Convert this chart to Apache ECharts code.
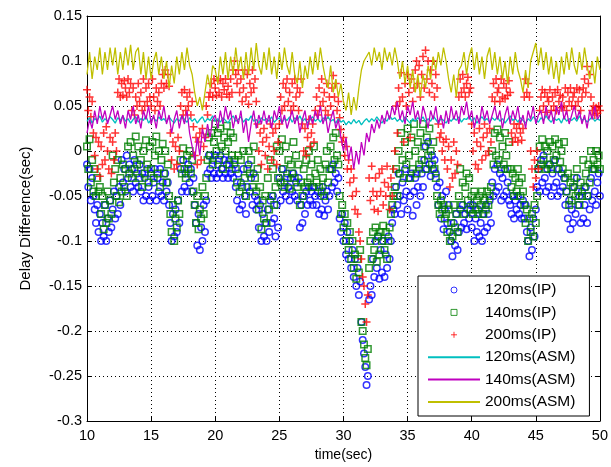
<!DOCTYPE html>
<html>
<head>
<meta charset="utf-8">
<title>Delay Difference</title>
<script src="https://cdn.jsdelivr.net/npm/echarts@6/dist/echarts.min.js"></script>
<style>
  html, body { margin: 0; padding: 0; background: #fff; }
  #chart { width: 611px; height: 467px; }
</style>
</head>
<body>
<div id="chart"></div>
<script>
// IP samples every 0.1 s, ASM samples every 0.2 s, both from t = 10 s to 50 s
const tStart = 10
const ipStep = 0.1
const asmStep = 0.2

const xTicks = [10, 15, 20, 25, 30, 35, 40, 45, 50]
const yTicks = [-0.3, -0.25, -0.2, -0.15, -0.1, -0.05, 0, 0.05, 0.1, 0.15]

const names = ['120ms(IP)', '140ms(IP)', '200ms(IP)', '120ms(ASM)', '140ms(ASM)', '200ms(ASM)']

// delay difference (sec), one row per second
const ip120 = [
  -0.015, -0.04, -0.02, -0.055, -0.03, -0.05, -0.065, -0.08, -0.06, -0.09,
  -0.07, -0.1, -0.08, -0.095, -0.06, -0.1, -0.075, -0.09, -0.055, -0.085,
  -0.065, -0.045, -0.075, -0.05, -0.07, -0.04, -0.06, -0.01, -0.035, -0.02,
  -0.045, -0.005, -0.03, -0.015, -0.04, -0.02, -0.045, -0.01, -0.035, -0.025,
  -0.04, -0.015, -0.045, -0.025, -0.055, -0.03, -0.05, -0.02, -0.04, -0.055,
  -0.025, -0.05, -0.035, -0.02, -0.055, -0.03, -0.045, -0.02, -0.05, -0.035,
  -0.055, -0.025, -0.045, -0.035, -0.06, -0.08, -0.1, -0.07, -0.095, -0.065,
  -0.09, -0.055, -0.08, -0.02, -0.045, -0.01, -0.04, -0.025, -0.045, -0.015,
  -0.035, -0.02, -0.045, -0.03, -0.06, -0.08, -0.105, -0.07, -0.11, -0.085,
  -0.1, -0.06, -0.09, -0.055, -0.025, -0.005, -0.02, -0.03, -0.01, -0.025,
  -0.005, -0.03, -0.015, -0.025, -0.005, -0.02, -0.03, -0.01, -0.025, -0.015,
  -0.03, -0.01, -0.025, -0.02, -0.03, -0.015, -0.04, -0.055, -0.025, -0.065,
  -0.035, -0.06, -0.02, -0.05, -0.07, -0.04, -0.015, -0.045, -0.03, -0.06,
  -0.025, -0.05, -0.065, -0.055, -0.085, -0.06, -0.1, -0.07, -0.095, -0.08,
  -0.1, -0.065, -0.09, -0.055, -0.08, -0.05, -0.075, -0.095, -0.06, -0.085,
  -0.03, -0.055, -0.02, -0.045, -0.035, -0.05, -0.025, -0.04, -0.055, -0.03,
  -0.045, -0.025, -0.05, -0.035, -0.055, -0.03, -0.085, -0.06, -0.08, -0.05,
  -0.07, -0.045, -0.06, -0.04, -0.055, -0.045, -0.06, -0.04, -0.05, -0.06,
  -0.045, -0.07, -0.05, -0.065, -0.04, -0.072, -0.055, -0.045, -0.065, -0.05,
  -0.02, -0.04, -0.015, -0.035, -0.025, -0.045, -0.03, -0.075, -0.09, -0.07,
  -0.1, -0.08, -0.115, -0.09, -0.12, -0.1, -0.13, -0.11, -0.14, -0.12,
  -0.15, -0.13, -0.16, -0.145, -0.19, -0.21, -0.225, -0.24, -0.26, -0.25,
  -0.165, -0.15, -0.16, -0.12, -0.14, -0.1, -0.13, -0.095, -0.142, -0.11,
  -0.135, -0.1, -0.14, -0.115, -0.13, -0.095, -0.12, -0.1, -0.08, -0.065,
  -0.07, -0.04, -0.06, -0.025, -0.05, -0.07, -0.035, -0.055, -0.02, -0.045,
  -0.065, -0.03, -0.05, -0.025, -0.072, -0.045, -0.03, -0.06, -0.04, -0.02,
  -0.05, -0.025, -0.04, -0.01, 0.005, -0.02, 0.01, -0.015, -0.028, -0.005,
  -0.02, -0.01, -0.025, -0.04, -0.06, -0.035, -0.075, -0.05, -0.087, -0.065,
  -0.045, -0.08, -0.06, -0.09, -0.1, -0.117, -0.08, -0.105, -0.07, -0.11,
  -0.09, -0.065, -0.085, -0.06, -0.08, -0.07, -0.087, -0.065, -0.075, -0.06,
  -0.085, -0.06, -0.1, -0.075, -0.09, -0.065, -0.095, -0.08, -0.1, -0.07,
  -0.09, -0.06, -0.085, -0.07, -0.055, -0.08, -0.035, -0.05, -0.02, -0.045,
  -0.015, -0.04, -0.025, -0.055, -0.03, -0.05, -0.02, -0.045, -0.035, -0.055,
  -0.06, -0.07, -0.05, -0.075, -0.055, -0.065, -0.05, -0.07, -0.06, -0.075,
  -0.055, -0.075, -0.06, -0.09, -0.1, -0.117, -0.085, -0.11, -0.075, -0.095,
  -0.065, -0.04, -0.02, -0.045, -0.01, -0.035, -0.005, -0.03, -0.045, -0.02,
  -0.04, -0.015, -0.05, -0.025, -0.04, -0.01, -0.035, -0.05, -0.02, -0.045,
  -0.025, -0.04, -0.03, -0.06, -0.045, -0.075, -0.055, -0.087, -0.065, -0.08,
  -0.04, -0.07, -0.03, -0.06, -0.05, -0.08, -0.045, -0.075, -0.06, -0.04,
  -0.08, -0.05, -0.065, -0.03, -0.055, -0.02, -0.045, -0.06, -0.035, -0.025,
  -0.05
]

const ip140 = [
  0.005, -0.02, 0.013, -0.035, -0.01, -0.045, -0.02, -0.05, -0.03, -0.045,
  -0.04, -0.07, -0.05, -0.087, -0.06, -0.08, -0.045, -0.075, -0.055, -0.07,
  -0.005, -0.035, -0.02, -0.05, -0.01, -0.057, -0.03, -0.045, -0.015, -0.04,
  -0.02, -0.05, 0.005, -0.025, 0.01, -0.03, -0.005, -0.02, 0.016, -0.015,
  0.005, -0.03, -0.01, -0.04, 0.0, -0.025, 0.012, -0.015, -0.035, 0.005,
  -0.02, 0.01, -0.03, -0.005, 0.016, -0.025, 0.0, -0.04, -0.01, 0.008,
  -0.025, 0.0, -0.035, -0.015, -0.05, -0.07, -0.09, -0.06, -0.1, -0.075,
  -0.085, -0.055, -0.07, -0.01, -0.025, 0.003, -0.02, -0.03, -0.005, -0.02,
  0.0, -0.025, -0.01, -0.045, -0.06, -0.08, -0.05, -0.087, -0.065, -0.075,
  -0.04, -0.07, -0.05, -0.03, -0.01, 0.015, -0.005, 0.02, -0.015, 0.01,
  0.03, 0.0, 0.02, -0.01, 0.025, 0.005, -0.02, 0.015, 0.0, 0.028,
  0.01, -0.015, 0.02, -0.005, 0.015, -0.01, -0.02, -0.035, -0.005, -0.045,
  -0.01, -0.04, 0.0, -0.03, -0.05, -0.02, 0.0, -0.025, -0.01, -0.04,
  0.005, -0.03, -0.045, -0.02, -0.065, -0.04, -0.087, -0.055, -0.075, -0.05,
  -0.08, -0.03, -0.065, -0.01, -0.05, -0.02, -0.06, -0.04, 0.005, -0.03,
  0.0, -0.035, 0.013, -0.02, -0.04, 0.005, -0.03, -0.01, -0.042, -0.015,
  -0.025, 0.01, -0.03, -0.005, -0.04, -0.015, -0.06, -0.035, -0.05, -0.02,
  -0.04, -0.01, -0.035, 0.0, -0.03, -0.015, -0.04, 0.005, -0.025, -0.035,
  -0.01, -0.04, -0.02, -0.045, -0.03, -0.05, -0.015, 0.0, -0.035, -0.02,
  0.005, -0.02, 0.015, -0.01, 0.02, -0.005, -0.015, -0.05, -0.07, -0.06,
  -0.085, -0.07, -0.1, -0.08, -0.11, -0.09, -0.12, -0.1, -0.13, -0.115,
  -0.142, -0.12, -0.135, -0.11, -0.19, -0.2, -0.215, -0.23, -0.238, -0.22,
  -0.13, -0.1, -0.12, -0.09, -0.11, -0.085, -0.123, -0.095, -0.115, -0.09,
  -0.1, -0.083, -0.11, -0.09, -0.12, -0.1, -0.085, -0.07, -0.06, -0.05,
  -0.04, -0.02, -0.05, 0.0, -0.025, 0.02, -0.01, -0.03, 0.01, -0.015,
  0.025, -0.005, -0.03, 0.015, -0.02, 0.03, 0.0, -0.025, 0.01, -0.015,
  0.02, -0.01, 0.03, 0.005, -0.02, 0.015, -0.005, 0.025, 0.0, -0.015,
  0.01, -0.02, -0.03, -0.05, -0.06, -0.07, -0.055, -0.065, -0.06, -0.075,
  -0.07, -0.09, -0.065, -0.1, -0.08, -0.095, -0.06, -0.085, -0.07, -0.09,
  -0.05, -0.02, -0.06, -0.035, -0.07, -0.04, -0.025, -0.055, -0.03, -0.065,
  -0.05, -0.07, -0.045, -0.065, -0.055, -0.07, -0.05, -0.06, -0.045, -0.07,
  -0.055, -0.065, -0.045, -0.06, -0.05, -0.04, 0.0, -0.015, 0.02, -0.005,
  0.024, -0.01, 0.015, -0.02, 0.005, -0.015, 0.02, -0.005, -0.02, 0.01,
  -0.02, -0.04, -0.025, -0.05, -0.03, -0.045, -0.02, -0.035, -0.05, -0.03,
  -0.045, -0.06, -0.08, -0.065, -0.1, -0.075, -0.09, -0.07, -0.095, -0.06,
  -0.08, -0.05, -0.02, 0.005, -0.015, 0.013, -0.01, 0.005, -0.02, 0.0,
  -0.015, 0.01, -0.02, 0.005, -0.01, 0.013, -0.005, -0.02, 0.008, -0.012,
  0.0, -0.02, 0.01, -0.03, -0.045, -0.025, -0.06, -0.035, -0.055, -0.04,
  -0.03, -0.05, -0.02, -0.045, -0.06, -0.035, -0.05, -0.01, -0.04, -0.025,
  -0.05, -0.015, -0.035, 0.0, -0.02, -0.01, -0.02, 0.0, -0.015, -0.005,
  -0.02
]

const ip200 = [
  0.068, 0.045, 0.06, 0.038, 0.055, 0.02, -0.005, 0.015, -0.02, 0.01,
  -0.028, 0.005, -0.015, 0.02, -0.01, 0.027, 0.0, -0.02, 0.015, -0.025,
  0.01, -0.01, 0.02, 0.0, 0.065, 0.08, 0.06, 0.075, 0.062, 0.078,
  0.07, 0.06, 0.08, 0.065, 0.075, 0.045, 0.07, 0.04, 0.06, 0.05,
  0.075, 0.055, 0.065, 0.045, 0.08, 0.05, 0.07, 0.055, 0.075, 0.06,
  0.05, 0.08, 0.06, 0.045, 0.07, 0.055, 0.065, 0.05, 0.075, 0.085,
  0.07, 0.09, 0.075, 0.085, 0.072, 0.02, -0.01, 0.01, -0.02, 0.005,
  -0.015, 0.015, 0.0, 0.05, 0.065, 0.04, 0.068, 0.045, 0.06, 0.05,
  0.065, 0.04, 0.055, 0.027, -0.005, 0.015, -0.015, 0.01, 0.02, -0.01,
  0.025, 0.005, 0.015, 0.05, 0.04, 0.06, 0.065, 0.075, 0.06, 0.08,
  0.07, 0.062, 0.078, 0.065, 0.08, 0.06, 0.075, 0.068, 0.08, 0.063,
  0.072, 0.06, 0.08, 0.065, 0.09, 0.1, 0.085, 0.075, 0.09, 0.065,
  0.08, 0.055, 0.07, 0.09, 0.06, 0.085, 0.052, 0.075, 0.065, 0.09,
  0.07, 0.08, 0.055, 0.03, 0.0, 0.02, -0.015, 0.01, 0.025, -0.005,
  0.015, -0.02, 0.005, 0.03, -0.01, 0.02, 0.0, 0.025, -0.015, 0.01,
  0.03, 0.06, 0.045, 0.075, 0.05, 0.07, 0.08, 0.055, 0.065, 0.045,
  0.075, 0.05, 0.08, 0.06, 0.07, 0.045, 0.065, 0.08, 0.03, 0.0,
  0.025, -0.005, 0.015, 0.035, 0.005, 0.02, 0.03, 0.01, 0.045, 0.06,
  0.04, 0.07, 0.05, 0.08, 0.055, 0.065, 0.045, 0.075, 0.04, 0.06,
  0.05, 0.07, 0.084, 0.06, 0.075, 0.045, 0.055, 0.037, 0.024, 0.01,
  0.015, -0.005, 0.005, -0.02, -0.01, -0.035, -0.02, -0.05, -0.03, -0.065,
  -0.045, -0.07, -0.09, -0.1, -0.12, -0.14, -0.15, -0.17, -0.19, -0.16,
  -0.03, -0.055, -0.017, -0.045, -0.065, -0.03, -0.05, -0.067, -0.025, -0.045,
  -0.02, -0.06, -0.035, -0.05, -0.017, -0.04, -0.065, -0.03, -0.05, -0.02,
  0.0, 0.05, 0.02, 0.07, 0.055, 0.087, 0.06, 0.01, 0.075, 0.05,
  0.085, 0.065, 0.015, 0.08, 0.055, 0.07, 0.09, 0.1, 0.075, 0.095,
  0.06, 0.085, 0.105, 0.07, 0.112, 0.08, 0.1, 0.065, 0.09, 0.075,
  0.1, 0.06, 0.085, 0.07, 0.03, 0.015, 0.02, 0.0, 0.01, -0.01,
  0.013, -0.02, 0.005, -0.04, -0.01, -0.03, 0.01, -0.025, 0.0, -0.015,
  0.06, 0.08, 0.065, 0.085, 0.07, 0.06, 0.075, 0.082, 0.065, 0.07,
  0.03, 0.0, 0.02, -0.015, 0.01, -0.02, 0.025, 0.005, -0.01, 0.015,
  0.03, -0.005, 0.02, 0.0, 0.025, 0.01, 0.06, 0.075, 0.055, 0.08,
  0.065, 0.07, 0.055, 0.08, 0.06, 0.075, 0.058, 0.07, 0.062, 0.078,
  0.065, 0.02, 0.01, 0.03, 0.015, 0.025, 0.01, 0.03, 0.02, 0.012,
  0.025, 0.06, 0.08, 0.065, 0.075, 0.06, 0.0, -0.02, -0.04, -0.01,
  -0.03, 0.0, -0.02, 0.045, 0.06, 0.068, 0.05, 0.065, 0.043, 0.06,
  0.055, 0.068, 0.045, 0.06, 0.05, 0.065, 0.045, 0.068, 0.055, 0.062,
  0.048, 0.06, 0.05, 0.07, 0.045, 0.065, 0.055, 0.07, 0.05, 0.06,
  0.065, 0.05, 0.07, 0.055, 0.068, 0.045, 0.06, 0.07, 0.08, 0.065,
  0.094, 0.075, 0.085, 0.06, 0.045, 0.05, 0.04, 0.048, 0.042, 0.05,
  0.045
]

// one row per two seconds
const asm120 = [
  0.033, 0.037, 0.031, 0.036, 0.034, 0.039, 0.032, 0.036, 0.033, 0.038,
  0.035, 0.031, 0.037, 0.034, 0.039, 0.033, 0.036, 0.031, 0.035, 0.038,
  0.032, 0.036, 0.034, 0.039, 0.031, 0.035, 0.037, 0.033, 0.038, 0.034,
  0.036, 0.032, 0.038, 0.034, 0.031, 0.036, 0.033, 0.039, 0.035, 0.032,
  0.037, 0.033, 0.036, 0.031, 0.035, 0.038, 0.032, 0.036, 0.034, 0.039,
  0.033, 0.036, 0.032, 0.037, 0.034, 0.031, 0.036, 0.039, 0.033, 0.035,
  0.038, 0.032, 0.036, 0.034, 0.039, 0.033, 0.035, 0.031, 0.037, 0.034,
  0.036, 0.033, 0.038, 0.032, 0.035, 0.037, 0.031, 0.036, 0.034, 0.038,
  0.032, 0.037, 0.034, 0.039, 0.033, 0.036, 0.031, 0.035, 0.038, 0.033,
  0.036, 0.032, 0.037, 0.034, 0.038, 0.033, 0.035, 0.031, 0.036, 0.032,
  0.034, 0.029, 0.033, 0.03, 0.035, 0.031, 0.034, 0.029, 0.033, 0.036,
  0.032, 0.036, 0.033, 0.038, 0.034, 0.031, 0.036, 0.033, 0.039, 0.035,
  0.037, 0.033, 0.036, 0.032, 0.038, 0.034, 0.031, 0.036, 0.033, 0.037,
  0.034, 0.038, 0.032, 0.036, 0.033, 0.039, 0.035, 0.031, 0.036, 0.034,
  0.031, 0.036, 0.033, 0.037, 0.034, 0.038, 0.032, 0.036, 0.035, 0.039,
  0.033, 0.037, 0.031, 0.035, 0.038, 0.034, 0.036, 0.032, 0.037, 0.034,
  0.038, 0.033, 0.036, 0.031, 0.035, 0.039, 0.034, 0.036, 0.032, 0.037,
  0.034, 0.031, 0.036, 0.033, 0.038, 0.035, 0.032, 0.037, 0.034, 0.039,
  0.035, 0.032, 0.037, 0.034, 0.036, 0.031, 0.038, 0.033, 0.036, 0.034,
  0.037, 0.033, 0.039, 0.034, 0.036, 0.032, 0.035, 0.038, 0.033, 0.036,
  0.034
]

const asm140 = [
  0.02, 0.035, 0.025, 0.045, 0.03, 0.05, 0.035, 0.045, 0.03, 0.04,
  0.05, 0.035, 0.045, 0.03, 0.04, 0.025, 0.045, 0.035, 0.05, 0.03,
  0.04, 0.025, 0.045, 0.035, 0.05, 0.03, 0.04, 0.025, 0.045, 0.035,
  0.05, 0.03, 0.04, 0.02, 0.035, 0.045, 0.025, 0.04, 0.03, 0.045,
  0.02, 0.005, -0.01, 0.015, -0.005, 0.025, 0.01, 0.03, 0.015, 0.035,
  0.04, 0.025, 0.045, 0.03, 0.05, 0.035, 0.045, 0.025, 0.04, 0.03,
  0.045, 0.02, 0.035, 0.01, 0.03, 0.045, 0.025, 0.04, 0.03, 0.045,
  0.03, 0.04, 0.025, 0.045, 0.035, 0.05, 0.03, 0.04, 0.025, 0.035,
  0.045, 0.03, 0.04, 0.02, 0.035, 0.045, 0.025, 0.04, 0.03, 0.045,
  0.035, 0.05, 0.03, 0.04, 0.02, 0.035, 0.045, 0.025, 0.035, 0.015,
  0.0, 0.015, -0.01, 0.005, -0.02, 0.0, -0.015, 0.01, -0.005, 0.02,
  0.01, 0.03, 0.02, 0.035, 0.025, 0.04, 0.03, 0.045, 0.035, 0.05,
  0.04, 0.055, 0.035, 0.045, 0.03, 0.05, 0.04, 0.055, 0.035, 0.045,
  0.03, 0.05, 0.04, 0.025, 0.045, 0.035, 0.05, 0.03, 0.04, 0.025,
  0.045, 0.03, 0.05, 0.035, 0.045, 0.03, 0.05, 0.04, 0.055, 0.035,
  0.045, 0.025, 0.04, 0.03, 0.05, 0.035, 0.045, 0.03, 0.04, 0.05,
  0.035, 0.045, 0.025, 0.04, 0.05, 0.03, 0.045, 0.035, 0.05, 0.03,
  0.04, 0.025, 0.045, 0.035, 0.05, 0.03, 0.04, 0.045, 0.03, 0.05,
  0.035, 0.045, 0.03, 0.05, 0.04, 0.055, 0.035, 0.045, 0.03, 0.04,
  0.05, 0.035, 0.045, 0.03, 0.04, 0.025, 0.045, 0.035, 0.05, 0.035,
  0.04
]

const asm200 = [
  0.085, 0.11, 0.08, 0.105, 0.09, 0.115, 0.085, 0.11, 0.09, 0.115,
  0.095, 0.115, 0.085, 0.11, 0.09, 0.115, 0.095, 0.118, 0.09, 0.11,
  0.115, 0.085, 0.11, 0.08, 0.105, 0.08, 0.1, 0.11, 0.085, 0.105,
  0.08, 0.1, 0.07, 0.095, 0.075, 0.105, 0.085, 0.11, 0.09, 0.115,
  0.095, 0.085, 0.065, 0.05, 0.06, 0.045, 0.065, 0.085, 0.07, 0.095,
  0.09, 0.075, 0.105, 0.085, 0.11, 0.08, 0.105, 0.085, 0.115, 0.09,
  0.105, 0.08, 0.11, 0.085, 0.115, 0.09, 0.12, 0.095, 0.085, 0.11,
  0.09, 0.115, 0.085, 0.105, 0.08, 0.11, 0.09, 0.115, 0.095, 0.085,
  0.11, 0.085, 0.075, 0.1, 0.07, 0.095, 0.08, 0.105, 0.085, 0.11,
  0.09, 0.115, 0.095, 0.08, 0.07, 0.095, 0.065, 0.08, 0.06, 0.075,
  0.055, 0.045, 0.065, 0.04, 0.06, 0.045, 0.07, 0.09, 0.1, 0.105,
  0.11, 0.095, 0.115, 0.1, 0.11, 0.09, 0.115, 0.1, 0.11, 0.095,
  0.115, 0.1, 0.08, 0.1, 0.075, 0.095, 0.07, 0.09, 0.065, 0.085,
  0.06, 0.085, 0.07, 0.095, 0.08, 0.105, 0.09, 0.11, 0.095, 0.115,
  0.1, 0.08, 0.065, 0.085, 0.06, 0.09, 0.095, 0.11, 0.085, 0.105,
  0.115, 0.09, 0.11, 0.085, 0.105, 0.08, 0.105, 0.115, 0.09, 0.11,
  0.085, 0.105, 0.08, 0.1, 0.075, 0.105, 0.085, 0.11, 0.09, 0.08,
  0.065, 0.09, 0.07, 0.1, 0.11, 0.12, 0.095, 0.115, 0.09, 0.11,
  0.085, 0.105, 0.08, 0.1, 0.075, 0.105, 0.085, 0.11, 0.09, 0.115,
  0.095, 0.085, 0.11, 0.09, 0.115, 0.095, 0.08, 0.1, 0.075, 0.105,
  0.09
]

const font = '"Liberation Sans", Arial, sans-serif'

function pairs (values, step) {
  return values.map((v, i) => [tStart + i * step, v])
}

const squareIcon = 'path://M0,0L10,0L10,10L0,10Z'
const plusIcon = 'path://M5,0L5,10M0,5L10,5'

const chart = echarts.init(document.getElementById('chart'))

const frameLine = { show: true, onZero: false, lineStyle: { color: '#000', width: 1 } }
const innerTick = { show: true, inside: true, length: 5, lineStyle: { color: '#000' } }
const gridDots = { show: true, lineStyle: { color: '#000', width: 1, type: [1, 3] } }
const noMarker = { opacity: 0 }

const option = {
  animation: false,
  backgroundColor: '#fff',
  textStyle: { fontFamily: font },
  grid: { left: 87, right: 6, top: 16, bottom: 43, containLabel: false },
  legend: {
    orient: 'vertical',
    left: 418,
    top: 276,
    padding: [6, 14, 6, 9],
    itemWidth: 52,
    itemHeight: 6,
    itemGap: 6.4,
    backgroundColor: '#fff',
    borderColor: '#000',
    borderWidth: 1,
    borderRadius: 0,
    selectedMode: false,
    itemStyle: { borderWidth: 1 },
    textStyle: { fontFamily: font, fontSize: 15.5, color: '#000', lineHeight: 16 },
    data: [
      { name: names[0], icon: 'circle' },
      { name: names[1], icon: squareIcon },
      { name: names[2], icon: plusIcon },
      { name: names[3], itemStyle: noMarker },
      { name: names[4], itemStyle: noMarker },
      { name: names[5], itemStyle: noMarker }
    ]
  },
  xAxis: [
    {
      type: 'value',
      min: xTicks[0],
      max: xTicks[xTicks.length - 1],
      interval: 5,
      position: 'bottom',
      name: 'time(sec)',
      nameLocation: 'middle',
      nameGap: 27,
      nameTextStyle: { fontFamily: font, fontSize: 14, color: '#000' },
      axisLine: frameLine,
      axisTick: innerTick,
      axisLabel: { color: '#000', fontFamily: font, fontSize: 14.5, margin: 7 },
      splitLine: gridDots
    },
    {
      type: 'value',
      min: xTicks[0],
      max: xTicks[xTicks.length - 1],
      interval: 5,
      position: 'top',
      axisLine: frameLine,
      axisTick: innerTick,
      axisLabel: { show: false },
      splitLine: { show: false }
    }
  ],
  yAxis: [
    {
      type: 'value',
      min: yTicks[0],
      max: yTicks[yTicks.length - 1],
      interval: 0.05,
      position: 'left',
      name: 'Delay Difference(sec)',
      nameLocation: 'middle',
      nameRotate: 90,
      nameGap: 54,
      nameTextStyle: { fontFamily: font, fontSize: 15, color: '#000' },
      axisLine: frameLine,
      axisTick: innerTick,
      axisLabel: { color: '#000', fontFamily: font, fontSize: 14.5, margin: 5 },
      splitLine: gridDots
    },
    {
      type: 'value',
      min: yTicks[0],
      max: yTicks[yTicks.length - 1],
      interval: 0.05,
      position: 'right',
      axisLine: frameLine,
      axisTick: innerTick,
      axisLabel: { show: false },
      splitLine: { show: false }
    }
  ],
  series: [
    {
      name: names[0],
      type: 'scatter',
      symbol: 'circle',
      symbolSize: 6.5,
      itemStyle: { color: 'rgba(0,0,0,0)', borderColor: '#0000ff', borderWidth: 1.5 },
      data: pairs(ip120, ipStep)
    },
    {
      name: names[1],
      type: 'scatter',
      symbol: squareIcon,
      symbolSize: 6.5,
      itemStyle: { color: 'rgba(0,0,0,0)', borderColor: '#008000', borderWidth: 1.5 },
      data: pairs(ip140, ipStep)
    },
    {
      name: names[2],
      type: 'scatter',
      symbol: plusIcon,
      symbolSize: 8,
      itemStyle: { color: 'rgba(0,0,0,0)', borderColor: '#ff0000', borderWidth: 1.5 },
      data: pairs(ip200, ipStep)
    },
    {
      name: names[3],
      type: 'line',
      symbol: 'none',
      lineStyle: { color: '#00bfbf', width: 1.3 },
      itemStyle: { color: '#00bfbf' },
      data: pairs(asm120, asmStep)
    },
    {
      name: names[4],
      type: 'line',
      symbol: 'none',
      lineStyle: { color: '#bf00bf', width: 1.3 },
      itemStyle: { color: '#bf00bf' },
      data: pairs(asm140, asmStep)
    },
    {
      name: names[5],
      type: 'line',
      symbol: 'none',
      lineStyle: { color: '#bfbf00', width: 1.3 },
      itemStyle: { color: '#bfbf00' },
      data: pairs(asm200, asmStep)
    }
  ]
}

chart.setOption(option)
</script>
</body>
</html>
